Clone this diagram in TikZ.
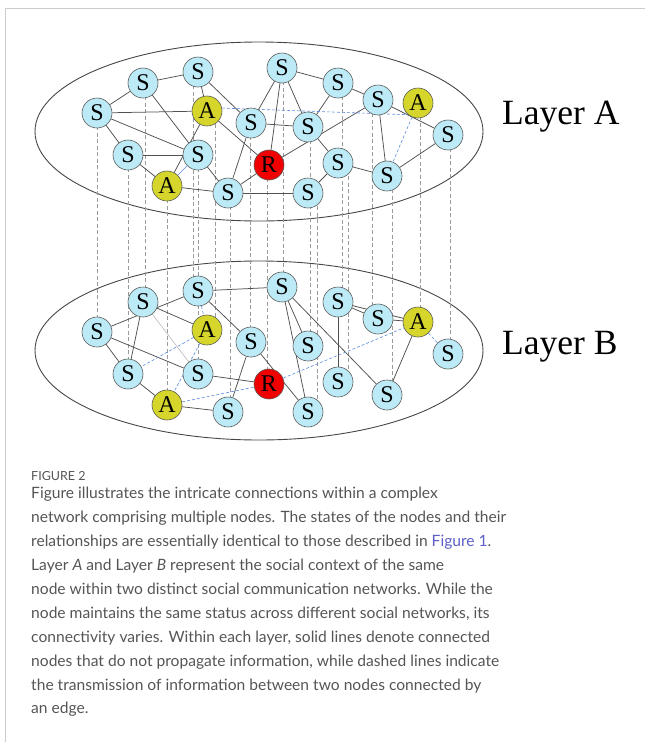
\documentclass[tikz,border=0pt]{standalone}
\usepackage{fontspec}
\setmainfont{Liberation Serif}
\newfontfamily\capfont{Lato}
\usetikzlibrary{backgrounds}
\definecolor{scol}{HTML}{BCEAF6}
\definecolor{acol}{HTML}{D5D52C}
\definecolor{rcol}{HTML}{F00000}
\definecolor{ndline}{HTML}{5A5A5A}
\definecolor{edgecol}{HTML}{505050}
\definecolor{faintcol}{HTML}{B8B8B8}
\definecolor{blucol}{HTML}{5B8BE0}
\definecolor{tiecol}{HTML}{9A9A9A}
\definecolor{framecol}{HTML}{CCCCCC}
\definecolor{captxt}{HTML}{555555}
\definecolor{reflink}{HTML}{5B5FC7}
\begin{document}
\begin{tikzpicture}[x=1pt,y=-1pt,
  nd/.style={circle,draw=ndline,line width=0.6pt,minimum size=30pt,inner sep=0pt,
    font=\fontsize{24}{24}\selectfont},
  snode/.style={nd,fill=scol},
  anode/.style={nd,fill=acol},
  rnode/.style={nd,fill=rcol},
  link/.style={edgecol,line width=0.75pt},
  faintlink/.style={faintcol,line width=0.6pt},
  spread/.style={blucol,line width=0.6pt,dash pattern=on 3pt off 2pt},
  tie/.style={tiecol,line width=0.5pt,dash pattern=on 4pt off 2.5pt},
  layerring/.style={draw=black!72,line width=0.9pt},
  layername/.style={anchor=west,inner sep=0pt,font=\fontsize{35.5}{35.5}\selectfont},
  capline/.style={anchor=base west,inner sep=0pt,text=captxt,
    font=\capfont\fontsize{15.6}{24}\selectfont}]
\useasboundingbox (0,0) rectangle (645,742);

% page frame
\draw[framecol,line width=1pt] (645,8) -- (5,8) -- (5,742);

% the same 19 actors in both layers: number/x/y/style/letter
\foreach \n/\x/\y/\k/\t in {
   1/97/113/snode/S,  2/143/83/snode/S,   3/198/72/snode/S,
   4/207/111/anode/A, 5/251/123/snode/S,  6/128/155/snode/S,
   7/198/155/snode/S, 8/167/186/anode/A,  9/228/193/snode/S,
  10/269/165/rnode/R, 11/282/68/snode/S, 12/338/83/snode/S,
  13/378/100/snode/S, 14/418/103/anode/A, 15/448/135/snode/S,
  16/308/127/snode/S, 17/338/163/snode/S, 18/387/176/snode/S,
  19/308/193/snode/S}{
  \node[\k] (a\n) at (\x,\y) {\t};
  \node[\k] (b\n) at (\x,{\y+219}) {\t};
}

\node[layername] (la) at (502,117) {Layer A};
\node[layername] (lb) at (502,347) {Layer B};

\begin{pgfonlayer}{background}
  \draw[layerring] (259,131.5) ellipse [x radius=224, y radius=89.5];
  \draw[layerring] (259,350.5) ellipse [x radius=224, y radius=89.5];

  % each actor tied to its copy in the other layer
  \foreach \n/\s in {1/0,2/2,3/-5,4/8,5/-1,6/0,7/0,8/0,9/2,10/-2,
                     11/1,12/4,13/-6,14/2,15/2,16/2,17/10,18/5,19/9}{
    \draw[tie] ([xshift=\s pt]a\n.center) -- ([xshift=\s pt]b\n.center);
  }

  % layer A
  \foreach \p/\q in {1/2,2/3,1/4,1/6,1/7,2/7,3/4,3/5,4/10,4/8,6/7,6/8,7/9,
                     8/9,9/19,9/5,9/10,5/16,11/10,11/5,11/16,11/12,12/16,
                     12/13,13/15,13/18,13/10,16/17,17/18,17/19,18/15}{
    \draw[link] (a\p) -- (a\q);
  }
  \draw[spread] (a4.11) -- (a14.230);
  \draw[spread] (a14) -- (a18);
  \draw[blucol,line width=0.6pt] (a7) -- (a8);

  % layer B
  \foreach \p/\q in {1/3,1/7,1/6,2/4,2/6,3/5,3/11,6/8,7/10,8/9,9/5,5/19,
                     11/19,11/16,11/18,12/14,12/13,12/17,13/14,14/18}{
    \draw[link] (b\p) -- (b\q);
  }
  \draw[faintlink] (b2) -- (b7);
  \foreach \p/\q in {3/4,4/6,4/8,8/10,10/14,14/15}{
    \draw[spread] (b\p) -- (b\q);
  }
\end{pgfonlayer}

% caption
\node[anchor=base west,inner sep=0pt,text=captxt,font=\capfont\fontsize{12.5}{12.5}\selectfont]
  (c0) at (31,480) {FIGURE 2};
\node[capline] (c1) at (31,498) {Figure illustrates the intricate connections within a complex};
\node[capline] (c2) at (31,522) {network comprising multiple nodes. The states of the nodes and their};
\node[capline] (c3) at (31,546) {relationships are essentially identical to those described in \textcolor{reflink}{Figure 1}.};
\node[capline] (c4) at (31,570) {Layer \textit{A} and Layer \textit{B} represent the social context of the same};
\node[capline] (c5) at (31,594) {node within two distinct social communication networks. While the};
\node[capline] (c6) at (31,618) {node maintains the same status across different social networks, its};
\node[capline] (c7) at (31,642) {connectivity varies. Within each layer, solid lines denote connected};
\node[capline] (c8) at (31,666) {nodes that do not propagate information, while dashed lines indicate};
\node[capline] (c9) at (31,690) {the transmission of information between two nodes connected by};
\node[capline] (c10) at (31,713) {an edge.};
\end{tikzpicture}
\end{document}
